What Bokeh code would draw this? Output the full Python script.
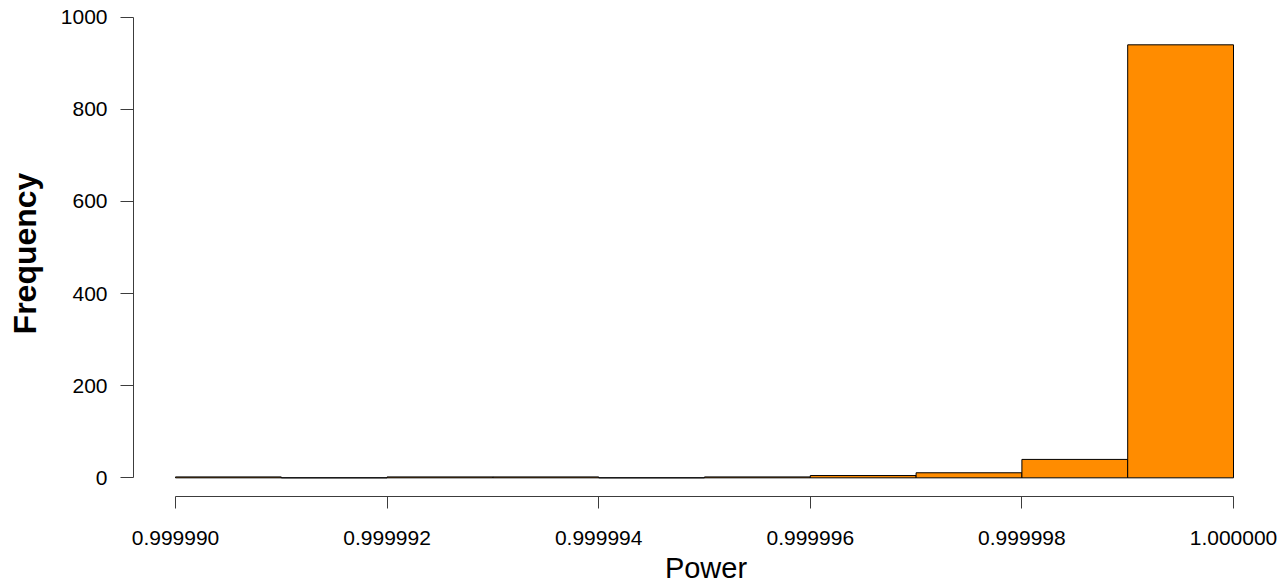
from bokeh.plotting import figure
from bokeh.models import FixedTicker, Range1d
from bokeh.embed import file_html
from bokeh.resources import INLINE

# Histogram of simulated power values
bin_edges = [0.999990, 0.999991, 0.999992, 0.999993, 0.999994, 0.999995,
             0.999996, 0.999997, 0.999998, 0.999999, 1.000000]
counts = [2, 0, 2, 2, 0, 2, 5, 11, 40, 940]

x_ticks = [0.999990, 0.999992, 0.999994, 0.999996, 0.999998, 1.000000]
x_tick_labels = ["0.999990", "0.999992", "0.999994", "0.999996", "0.999998", "1.000000"]
y_ticks = [0, 200, 400, 600, 800, 1000]
y_tick_labels = ["0", "200", "400", "600", "800", "1000"]

FONT = "Liberation Sans"
W, H = 1282, 586
FRAME_L, FRAME_R, FRAME_T, FRAME_B = 133, 1278, 10, 497
X_LO_PX, X_HI_PX = 175.0, 1233.0      # pixel columns of first / last bin edge
Y_LO_PX, Y_HI_PX = 478.3, 16.7        # pixel rows of y = 0 / y = 1000

# ranges chosen so the axis lines sit just outside the bars (R style)
x_per_px = (bin_edges[-1] - bin_edges[0]) / (X_HI_PX - X_LO_PX)
y_per_px = (y_ticks[-1] - y_ticks[0]) / (Y_LO_PX - Y_HI_PX)
x_start = bin_edges[0] - (X_LO_PX - FRAME_L) * x_per_px
x_end = bin_edges[-1] + (FRAME_R - X_HI_PX) * x_per_px
y_start = y_ticks[0] - (FRAME_B - Y_LO_PX) * y_per_px
y_end = y_ticks[-1] + (Y_HI_PX - FRAME_T) * y_per_px

p = figure(width=W, height=H, output_backend="svg", toolbar_location=None,
           x_range=Range1d(x_start, x_end), y_range=Range1d(y_start, y_end),
           min_border_left=FRAME_L, min_border_right=W - FRAME_R,
           min_border_top=FRAME_T, min_border_bottom=H - FRAME_B)
p.outline_line_color = None
p.xgrid.visible = False
p.ygrid.visible = False
p.background_fill_color = "white"
p.border_fill_color = "white"

p.quad(left=bin_edges[:-1], right=bin_edges[1:], bottom=0, top=counts,
       fill_color="#FF8C00", line_color="black", line_width=1)

axis_color = "#3c3c3c"

xa = p.xaxis[0]
xa.ticker = FixedTicker(ticks=x_ticks)
xa.major_label_overrides = dict(zip(x_ticks, x_tick_labels))
xa.bounds = (bin_edges[0], bin_edges[-1])
xa.major_tick_out = 12
xa.major_tick_in = 0
xa.minor_tick_line_color = None
xa.axis_line_color = axis_color
xa.major_tick_line_color = axis_color
xa.major_label_text_font = FONT
xa.major_label_text_font_size = "21px"
xa.major_label_text_color = "black"
xa.major_label_standoff = 22
xa.axis_label = "Power"
xa.axis_label_text_font = FONT
xa.axis_label_text_font_size = "29px"
xa.axis_label_text_font_style = "normal"
xa.axis_label_text_color = "black"
xa.axis_label_standoff = 4

ya = p.yaxis[0]
ya.ticker = FixedTicker(ticks=y_ticks)
ya.major_label_overrides = dict(zip(y_ticks, y_tick_labels))
ya.bounds = (y_ticks[0], y_ticks[-1])
ya.major_tick_out = 13
ya.major_tick_in = 0
ya.minor_tick_line_color = None
ya.axis_line_color = axis_color
ya.major_tick_line_color = axis_color
ya.major_label_text_font = FONT
ya.major_label_text_font_size = "21px"
ya.major_label_text_color = "black"
ya.major_label_standoff = 13
ya.axis_label = "Frequency"
ya.axis_label_text_font = FONT
ya.axis_label_text_font_size = "32px"
ya.axis_label_text_font_style = "bold"
ya.axis_label_text_color = "black"
ya.axis_label_standoff = 15

open("out.html", "w").write(file_html(p, INLINE))
